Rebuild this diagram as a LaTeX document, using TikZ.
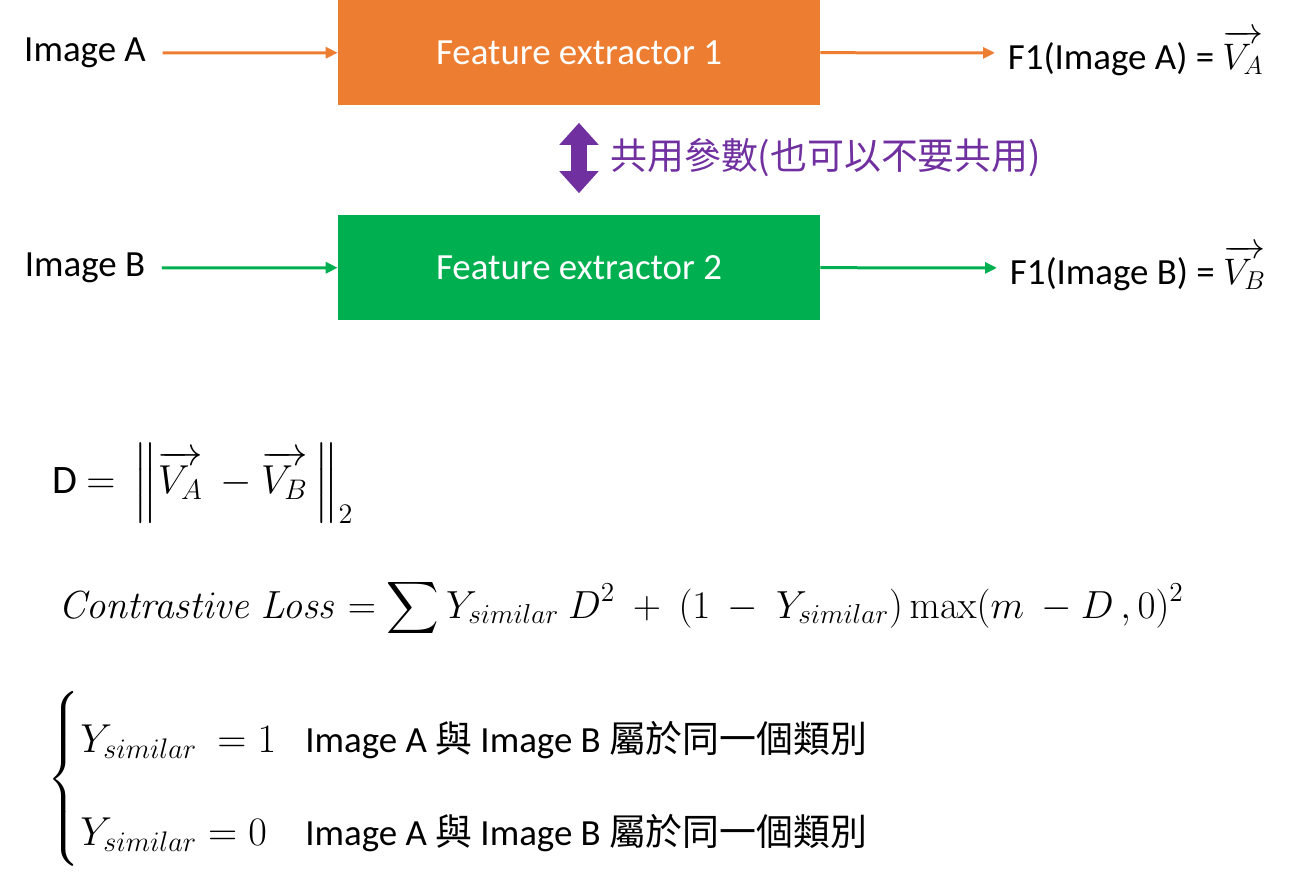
\RequirePackage{fix-cm}
\documentclass[tikz,border=0pt]{standalone}
\usepackage{amsmath}
\usepackage[no-math]{fontspec}
\setmainfont{Carlito}
\newfontfamily\cjk{Noto Sans CJK TC}
\usetikzlibrary{arrows.meta, positioning}
\definecolor{extorange}{HTML}{ED7D31}
\definecolor{extgreen}{HTML}{00B050}
\definecolor{sharepurple}{HTML}{7030A0}
\tikzset{
    extractor/.style={rectangle, minimum width=9.64cm, minimum height=2.12cm, text=white},
    imglabel/.style={rectangle, inner sep=0.25cm},
    feed/.style={-{Triangle[length=0.24cm, width=0.22cm]}, line width=0.06cm},
    sharearrow/.style={{Triangle[length=0.44cm, width=0.76cm]}-{Triangle[length=0.44cm, width=0.76cm]}, line width=0.32cm, draw=sharepurple},
    eqn/.style={inner sep=0pt, font=\fontsize{23}{28}\selectfont}
}

\begin{document}
\begin{tikzpicture}[x=0.02cm, y=-0.02cm, font=\fontsize{21}{25}\selectfont]
    \useasboundingbox (0,0) rectangle (1292,879);

    % the two feature extractors
    \node (fe1) [extractor, fill=extorange] at (579,52.5) {Feature extractor 1};
    \node (fe2) [extractor, fill=extgreen] at (579,267.5) {Feature extractor 2};

    \node (imgA) [imglabel] at (85,53) {Image A};
    \node (imgB) [imglabel] at (85,268) {Image B};
    \node (outA) [imglabel, anchor=west] at (995,53) {F1(Image A) = $\overrightarrow{V_A}$};
    \node (outB) [imglabel, anchor=west] at (997,268) {F1(Image B) = $\overrightarrow{V_B}$};

    \draw[feed, extorange, shorten <=0.08cm] (imgA) -- (fe1);
    \draw[feed, extorange] (fe1) -- (outA);
    \draw[feed, extgreen, shorten <=0.08cm] (imgB) -- (fe2);
    \draw[feed, extgreen] (fe2) -- (outB);

    % shared parameters
    \draw[sharearrow, shorten <=0.34cm, shorten >=0.42cm] (fe1.south) -- (fe2.north);
    \node (share) [anchor=west, text=sharepurple, inner sep=0pt] at (610,158) {\cjk 共用參數(也可以不要共用)};

    % distance and loss
    \node (dist) [eqn, anchor=base west] at (52,493) {D $=$ \ $\left\|\overrightarrow{V_A}\ -\overrightarrow{V_B}\,\right\|_2$};
    \node (loss) [eqn, anchor=base west, font=\fontsize{22.3}{27}\selectfont] at (58,618)
        {$\mathit{Contrastive\ Loss} = \displaystyle\sum Y_{similar}\ D^2\ +\ (1\ -\ Y_{similar})\max(m\ - D\,, 0)^2$};

    % the two cases
    \node (brace) [inner sep=0pt] at (65,779) {$\left\{\vrule height 1.5cm depth 1.5cm width 0pt\right.$};
    \node (ysim1) [eqn, anchor=base west] at (80,752) {$Y_{similar}\ = 1$};
    \node (ysim2) [eqn, anchor=base west] at (80,845) {$Y_{similar} = 0$};
    \node (txt1) [anchor=base west, inner sep=0pt] at (305,752) {Image A {\cjk 與} Image B {\cjk 屬於同一個類別}};
    \node (txt2) [anchor=base west, inner sep=0pt] at (305,845) {Image A {\cjk 與} Image B {\cjk 屬於同一個類別}};
\end{tikzpicture}
\end{document}
